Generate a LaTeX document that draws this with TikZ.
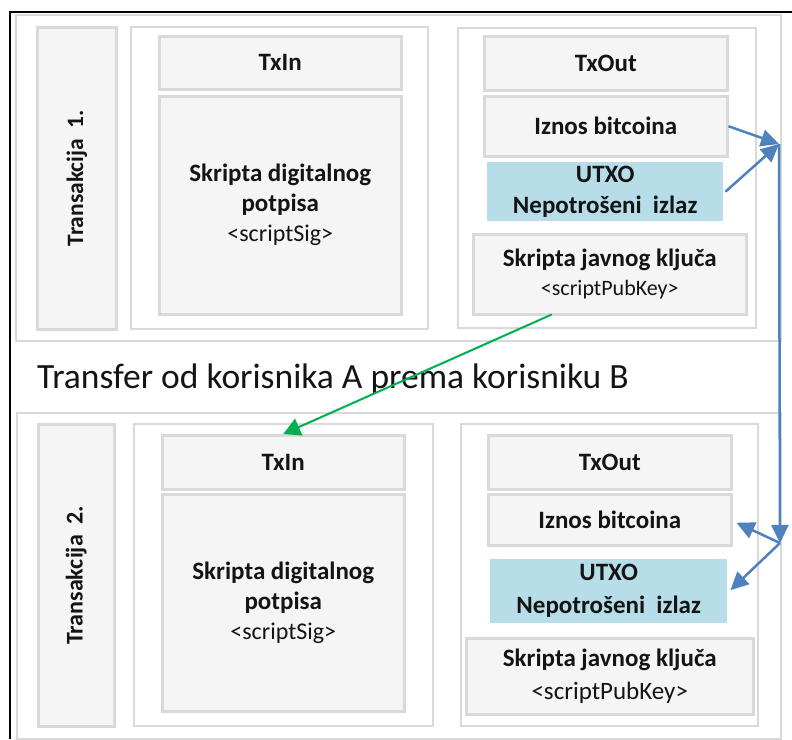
\documentclass[tikz,border=0pt]{standalone}
\usepackage{fontspec}
\setmainfont{Carlito}
\usetikzlibrary{arrows.meta,calc}
\definecolor{boxfill}{HTML}{F5F5F5}
\definecolor{boxline}{HTML}{D9D9D9}
\definecolor{utxofill}{HTML}{B7DEE8}
\definecolor{arrblue}{HTML}{4F81BD}
\definecolor{arrgreen}{HTML}{00B050}
\definecolor{txt}{HTML}{141414}
\tikzset{
  frame/.style={draw=boxline, line width=2pt, fill=white, anchor=north west, inner sep=0pt},
  gbox/.style={draw=boxline, line width=2.5pt, fill=boxfill, anchor=north west, inner sep=0pt, text=txt, align=center},
  ubox/.style={fill=utxofill, anchor=north west, inner sep=0pt, text=txt, align=center},
  hfont/.style={font=\fontsize{25}{30}\selectfont\bfseries},
  vfont/.style={font=\fontsize{23.5}{28}\selectfont\bfseries},
  barrow/.style={draw=arrblue, line width=2.5pt, -{Triangle[length=18pt,width=17pt]}},
  garrow/.style={draw=arrgreen, line width=2pt, -{Triangle[length=17pt,width=18pt]}},
}
\begin{document}
\begin{tikzpicture}[x=1pt,y=-1pt]
\useasboundingbox (0,0) rectangle (792,739);
\fill[white] (0,0) rectangle (792,739);
% black border (left and top)
\draw[line width=2pt, black] (10,739) -- (10,12) -- (792,12);

% ---------- Transakcija 1 ----------
\node[frame, minimum width=765pt, minimum height=326pt] (fr1) at (15,14) {};
\node[gbox, minimum width=79pt, minimum height=302pt] (tr1) at (36,26) {};
\node[rotate=90, vfont, text=txt] (tr1t) at (tr1.center) {Transakcija\ \ 1.};

\node[frame, minimum width=297pt, minimum height=302pt] (in1o) at (130,26) {};
\node[gbox, hfont, minimum width=242pt, minimum height=53pt] (in1h) at (158,35) {TxIn};
\node[gbox, hfont, minimum width=242pt, minimum height=218pt] (in1s) at (158,95)
  {Skripta digitalnog\\potpisa\\{\mdseries\fontsize{24}{30}\selectfont <scriptSig>}};

\node[frame, minimum width=298pt, minimum height=300pt] (out1o) at (457,27) {};
\node[gbox, hfont, minimum width=243pt, minimum height=54pt] (out1h) at (483,35) {TxOut};
\node[gbox, hfont, minimum width=243pt, minimum height=60pt] (izn1) at (483,95) {Iznos bitcoina};
\node[ubox, font=\fontsize{25}{31}\selectfont\bfseries, minimum width=236pt, minimum height=59pt] (utxo1) at (487,162) {UTXO\\Nepotrošeni\ \ izlaz};
\node[gbox, font=\fontsize{25}{29}\selectfont\bfseries, minimum width=273pt, minimum height=80pt] (spk1) at (472,233)
  {Skripta javnog ključa\\{\mdseries\fontsize{22}{29}\selectfont <scriptPubKey>}};

% ---------- title ----------
\node[anchor=base west, inner sep=0pt, text=txt, font=\fontsize{35.5}{40}\selectfont] (title) at (37,388)
  {Transfer od korisnika A prema korisniku B};

% ---------- Transakcija 2 ----------
\node[frame, minimum width=764pt, minimum height=326pt] (fr2) at (16,412) {};
\node[gbox, minimum width=76pt, minimum height=302pt] (tr2) at (37,423) {};
\node[rotate=90, font=\fontsize{24}{28}\selectfont\bfseries, text=txt] (tr2t) at (tr2.center) {Transakcija\ \ 2.};

\node[frame, minimum width=299pt, minimum height=302pt] (in2o) at (133,423) {};
\node[gbox, hfont, minimum width=242pt, minimum height=54pt] (in2h) at (161,434) {TxIn};
\node[gbox, hfont, minimum width=242pt, minimum height=217pt] (in2s) at (161,493)
  {Skripta digitalnog\\potpisa\\{\mdseries\fontsize{24}{30}\selectfont <scriptSig>}};

\node[frame, minimum width=297pt, minimum height=302pt] (out2o) at (460,423) {};
\node[gbox, hfont, minimum width=243pt, minimum height=54pt] (out2h) at (487,434) {TxOut};
\node[gbox, hfont, minimum width=243pt, minimum height=51pt] (izn2) at (487,493) {Iznos bitcoina};
\node[ubox, font=\fontsize{25}{33}\selectfont\bfseries, minimum width=237pt, minimum height=64pt] (utxo2) at (490,559) {UTXO\\Nepotrošeni\ \ izlaz};
\node[gbox, font=\fontsize{25}{33}\selectfont\bfseries, minimum width=287pt, minimum height=76pt] (spk2) at (465,637)
  {Skripta javnog ključa\\{\mdseries\fontsize{25}{33}\selectfont <scriptPubKey>}};

% ---------- arrows ----------
\coordinate (jt) at (779,144);
\coordinate (jb) at (780,543);
\draw[barrow] (izn1.east) -- (jt);
\draw[barrow] ($(utxo1.east)+(2,0)$) -- (jt);
\draw[barrow] (jt) -- (jb);
\draw[barrow] (jb) -- ($(izn2.east)+(4,3)$);
\draw[barrow] (jb) -- ($(utxo2.east)+(3,-1)$);
\draw[garrow] ($(spk1.south)+(-58,-1)$) -- (in2h.north);
\end{tikzpicture}
\end{document}
